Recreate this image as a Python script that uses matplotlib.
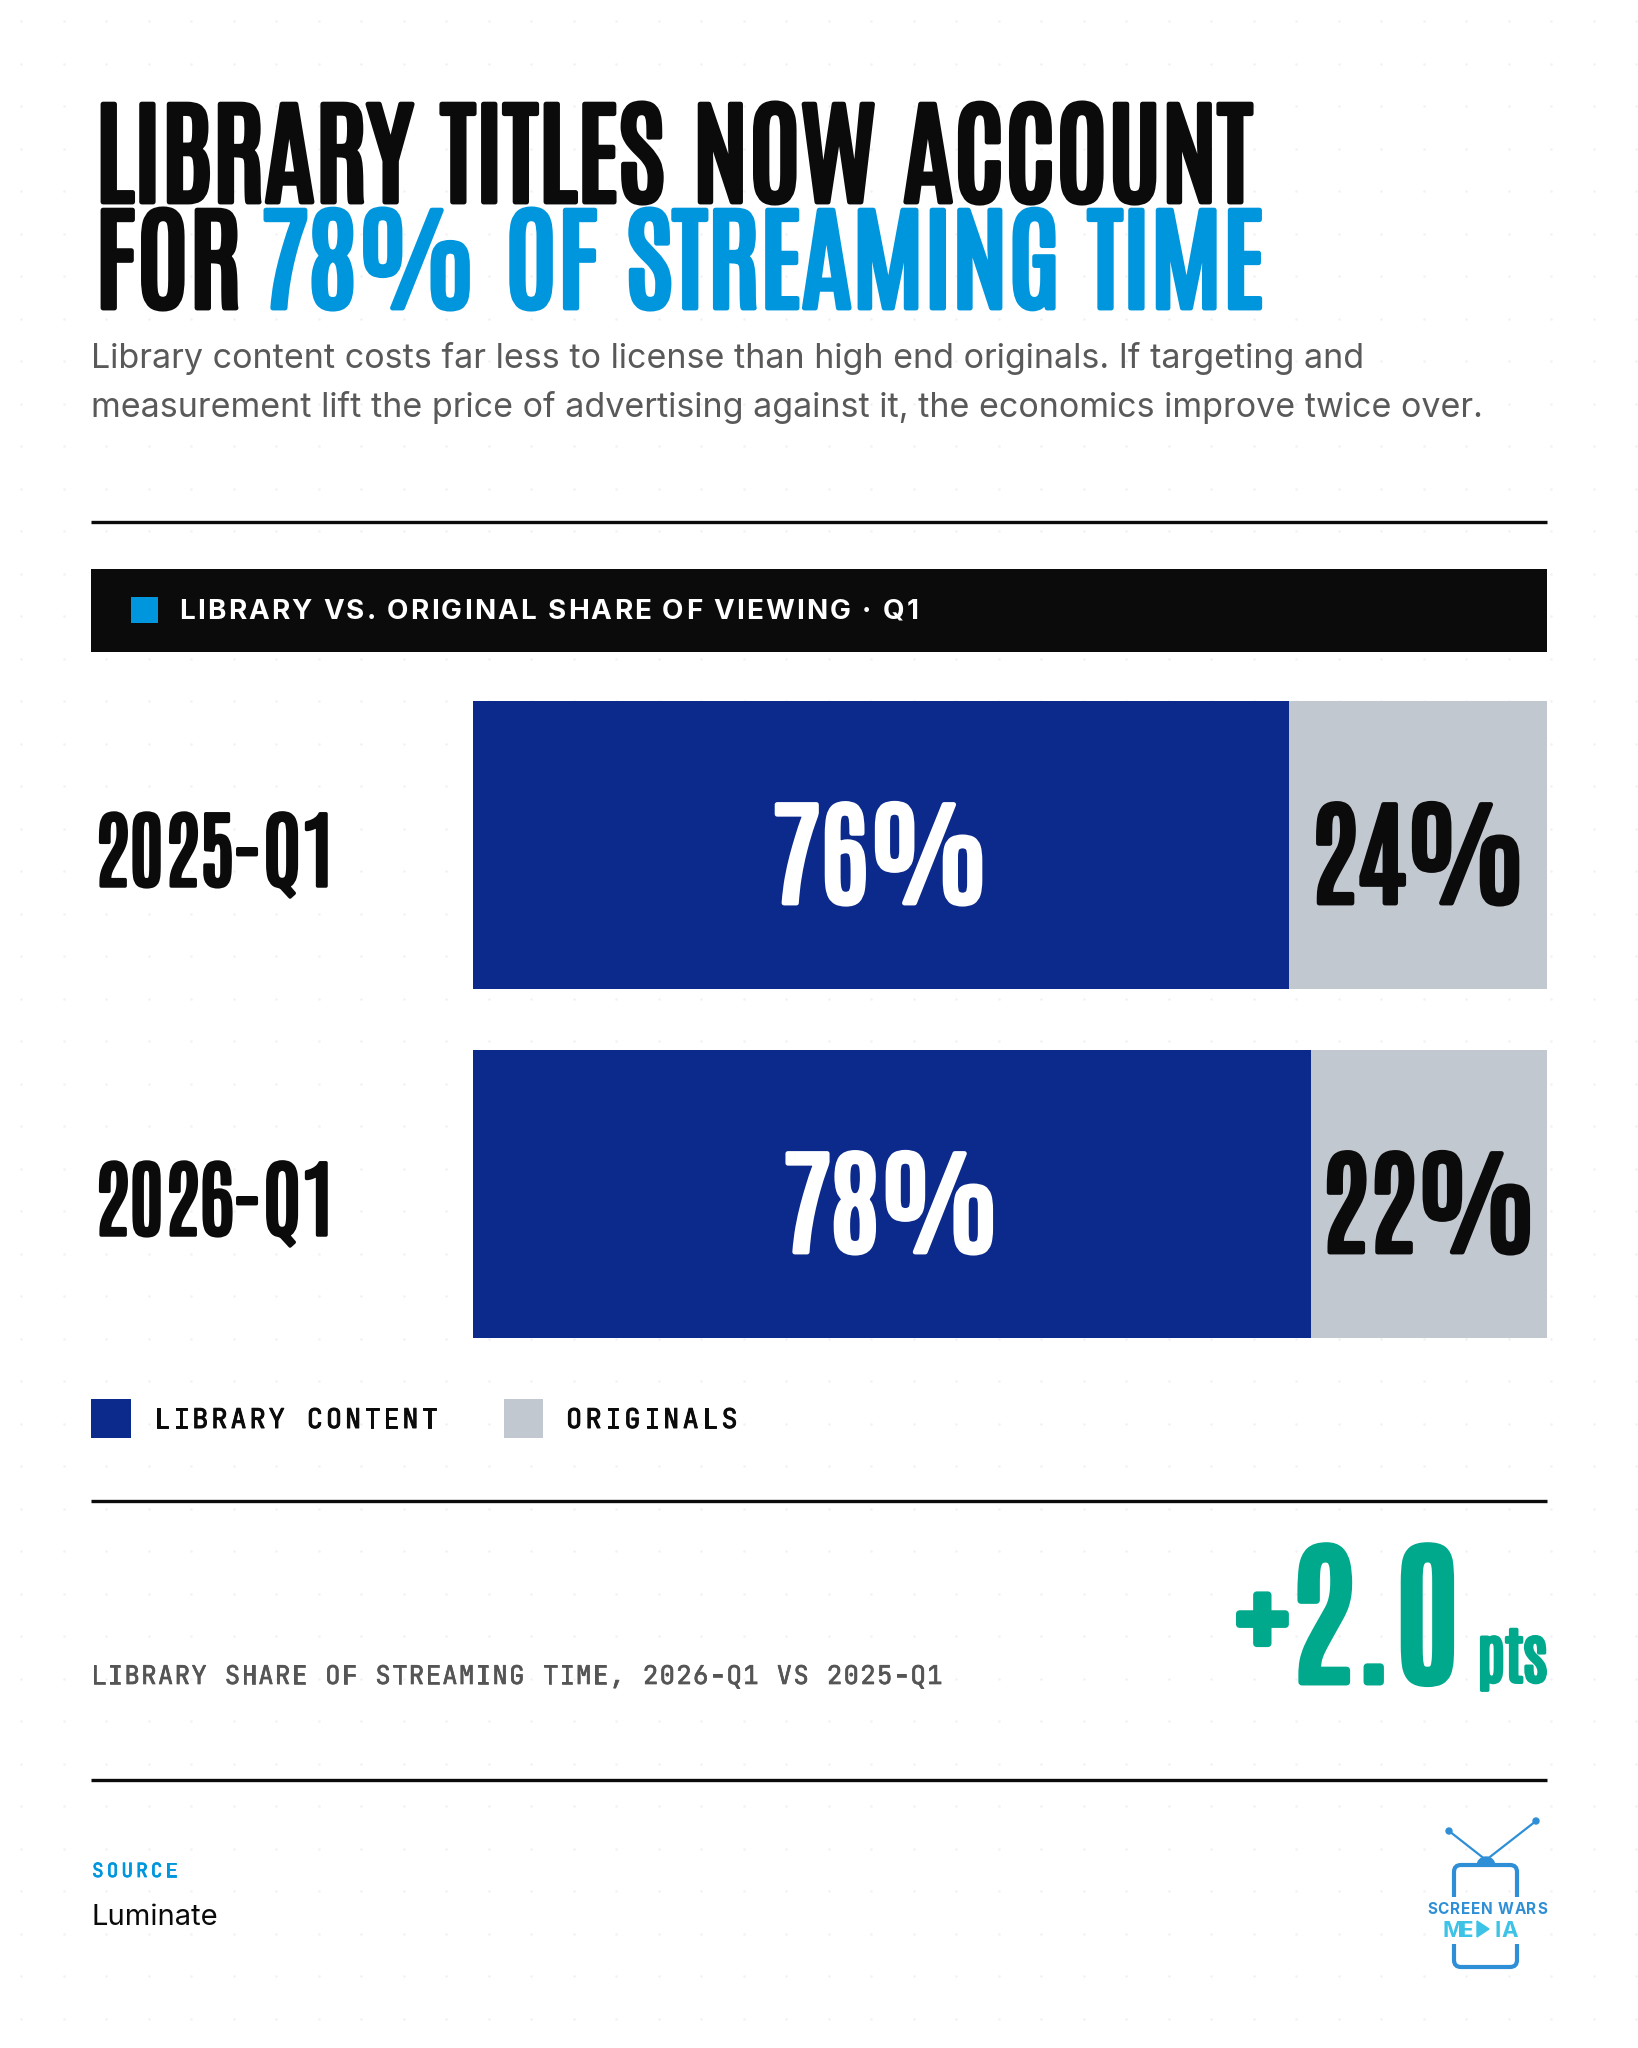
import numpy as np
import matplotlib
matplotlib.use("Agg")
import matplotlib.pyplot as plt
from matplotlib.font_manager import FontProperties
from matplotlib.patches import Rectangle, FancyBboxPatch, Polygon, Circle, Wedge
from matplotlib import patheffects as pe
from matplotlib.transforms import ScaledTranslation

# ---- data ----
periods = ["2025-Q1", "2026-Q1"]
library = [76, 78]
originals = [24, 22]
legend_labels = ["LIBRARY CONTENT", "ORIGINALS"]
change_pts = 2.0
title_1 = "LIBRARY TITLES NOW ACCOUNT"
title_2a = "FOR"
title_2b = "78% OF STREAMING TIME"
subtitle = ["Library content costs far less to license than high end originals. If targeting and",
            "measurement lift the price of advertising against it, the economics improve twice over."]
panel_title = "LIBRARY VS. ORIGINAL SHARE OF VIEWING \u00b7 Q1"
kpi_label = "LIBRARY SHARE OF STREAMING TIME, 2026-Q1 VS 2025-Q1"
source = "Luminate"

W, H = 1638, 2048
NAVY = "#0B2A8C"
GREY = "#C2C8D0"
INK = "#0B0B0B"
BLUE = "#0096DD"
TEAL = "#00A88C"
COND = "Antonio"
MONO = "JetBrains Mono"
SANS = "Inter"

fig = plt.figure(figsize=(W / 100, H / 100), dpi=100)
fig.patch.set_facecolor("white")
bg = fig.add_axes([0, 0, 1, 1])
bg.set_xlim(0, W)
bg.set_ylim(H, 0)
bg.axis("off")
r = fig.canvas.get_renderer()


def fat(lw, c):
    return [pe.withStroke(linewidth=lw, foreground=c)]


def adv(ch, fp):
    w2 = r.get_text_width_height_descent("HH", fp, ismath=False)[0]
    w3 = r.get_text_width_height_descent("H" + ch + "H", fp, ismath=False)[0]
    return w3 - w2


def tracked(x, y, s, fp, color, width, **kw):
    # letter-spaced text, spread so it spans about `width` pixels
    ws = [adv(ch, fp) for ch in s]
    track = (width - sum(ws[:-1]) - ws[-1] * 0.9) / (len(s) - 1)
    for ch, w in zip(s, ws):
        if ch != " ":
            bg.text(x, y, ch, fontproperties=fp, color=color, va="baseline", ha="left", **kw)
        x += w + track


# faint dot grid
gx, gy = np.meshgrid(np.arange(21, W, 42.5), np.arange(21, H, 42.5))
bg.scatter(gx.ravel(), gy.ravel(), s=3, color="#F1F1F1", linewidths=0, zorder=0)

# ---- title ----
fp_title = FontProperties(family=COND, size=82)
bg.text(95, 202, title_1, fontproperties=fp_title, color=INK, va="baseline", path_effects=fat(3.5, INK))
t = bg.text(95, 308, title_2a, fontproperties=fp_title, color=INK, va="baseline", path_effects=fat(3.5, INK))
x1 = t.get_window_extent(r).x1
bg.text(x1 + 20, 308, title_2b, fontproperties=fp_title, color=BLUE, va="baseline",
        path_effects=fat(3.5, BLUE))

fp_sub = FontProperties(family=SANS, size=24.5)
for i, line in enumerate(subtitle):
    bg.text(91, 368 + 49.5 * i, line, fontproperties=fp_sub, color="#595959", va="baseline")

# ---- rules ----
for yy in [522, 1501, 1780]:
    bg.plot([91, 1547], [yy, yy], color=INK, lw=2.4, solid_capstyle="butt")

# ---- panel header ----
bg.add_patch(Rectangle((91, 569), 1456, 83, color=INK, lw=0))
bg.add_patch(Rectangle((131, 597), 27, 26, color=BLUE, lw=0))
tracked(179, 619, panel_title, FontProperties(family=SANS, weight="bold", size=20), "white", 738)

# ---- bars ----
h = 288 / 349
bx = fig.add_axes([473 / W, 1 - 1338 / H, 1074 / W, 637 / H])
bx.set_xlim(0, 100)
bx.set_ylim(len(periods) - 1 + h / 2, -h / 2)
bx.axis("off")
bx.patch.set_alpha(0)
yy = np.arange(len(periods))
bx.barh(yy, library, height=h, color=NAVY, lw=0)
bx.barh(yy, originals, left=library, height=h, color=GREY, lw=0)

fp_val = FontProperties(family=COND, size=82.5)
fp_lab = FontProperties(family=COND, size=60.5)
val_off = bx.transData + ScaledTranslation(0, -0.58, fig.dpi_scale_trans)
lab_off = bx.get_yaxis_transform() + ScaledTranslation(0, -0.41, fig.dpi_scale_trans)
for i in range(len(periods)):
    bx.text(library[i] / 2, i, f"{library[i]}%", fontproperties=fp_val, color="white",
            ha="center", va="baseline", transform=val_off, path_effects=fat(3.5, "white"))
    bx.text(library[i] + originals[i] / 2, i, f"{originals[i]}%", fontproperties=fp_val, color=INK,
            ha="center", va="baseline", transform=val_off, path_effects=fat(3.5, INK))
    bx.text((94 - 473) / 1074, i, periods[i], fontproperties=fp_lab, color=INK,
            ha="left", va="baseline", transform=lab_off, path_effects=fat(2.5, INK))

# ---- legend ----
fp_leg = FontProperties(family=MONO, size=19.5)
bg.add_patch(Rectangle((91, 1399), 40, 39, color=NAVY, lw=0))
tracked(154, 1428, legend_labels[0], fp_leg, INK, 282, path_effects=fat(0.7, INK))
bg.add_patch(Rectangle((504, 1399), 39, 39, color=GREY, lw=0))
tracked(566, 1428, legend_labels[1], fp_leg, INK, 170, path_effects=fat(0.7, INK))

# ---- kpi ----
tracked(91, 1684, kpi_label, FontProperties(family=MONO, size=18.5), "#555555", 850,
        path_effects=fat(0.5, "#555555"))
pts = bg.text(1547, 1682, "pts", fontproperties=FontProperties(family=COND, size=44), color=TEAL,
              ha="right", va="baseline", path_effects=fat(2.5, TEAL))
px0 = pts.get_window_extent(r).x0
bg.text(px0 - 17, 1682, f"+{change_pts:.1f}", fontproperties=FontProperties(family=COND, size=113),
        color=TEAL, ha="right", va="baseline", path_effects=fat(5, TEAL))

# ---- source ----
tracked(92, 1877, "SOURCE", FontProperties(family=MONO, size=14), BLUE, 84,
        path_effects=fat(0.6, BLUE))
bg.text(92, 1925, source, fontproperties=FontProperties(family=SANS, size=21), color=INK, va="baseline")

# ---- logo ----
LB = "#2F8FD6"
LC = "#3CC3E6"
bg.plot([1486, 1449], [1860, 1831], color=LB, lw=1.6, solid_capstyle="round")
bg.plot([1486, 1536], [1860, 1821], color=LB, lw=1.6, solid_capstyle="round")
bg.add_patch(Circle((1449, 1831), 3, color=LB))
bg.add_patch(Circle((1536, 1821), 3, color=LB))
bg.add_patch(Wedge((1486, 1866), 9, 180, 360, color=LB))
bg.add_patch(FancyBboxPatch((1454, 1865), 63, 102, boxstyle="round,pad=0,rounding_size=7",
                            fill=False, ec=LB, lw=3))
bg.add_patch(Rectangle((1446, 1897), 80, 47, color="white", lw=0, zorder=3))
tracked(1427, 1914, "SCREEN WARS", FontProperties(family=SANS, weight="bold", size=11), LB, 119,
        zorder=4)
fp_m = FontProperties(family=SANS, weight="bold", size=16)
tracked(1442, 1937, "ME", fp_m, LC, 30, zorder=4)
bg.add_patch(Polygon([[1477, 1921], [1477, 1937], [1489, 1929]], closed=True, color=LC, zorder=4))
tracked(1494, 1937, "IA", fp_m, LC, 22, zorder=4)

fig.savefig("out.png", dpi=100, facecolor="white")
